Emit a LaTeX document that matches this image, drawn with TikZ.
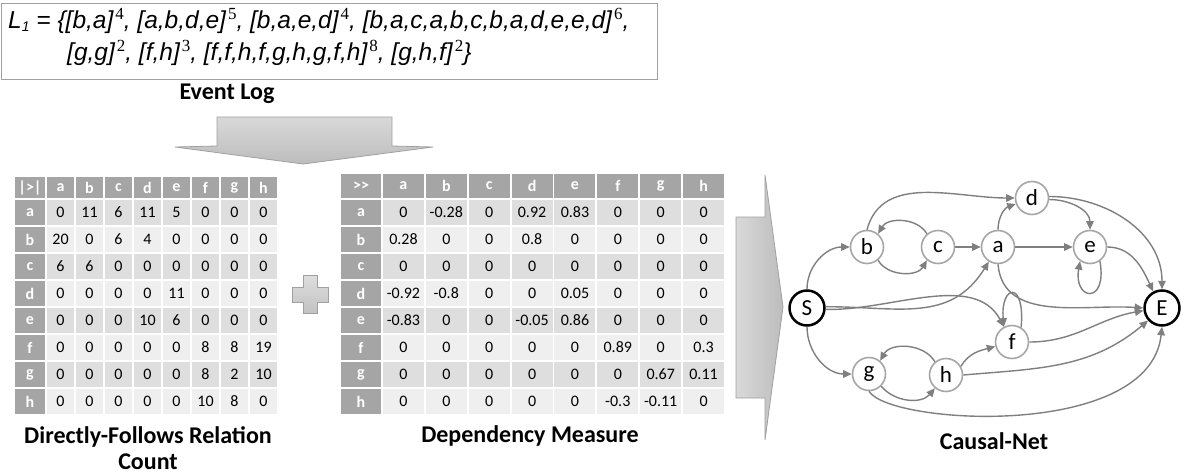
\documentclass[tikz,border=0pt]{standalone}
\usepackage{fontspec}
\setmainfont{Carlito}
\newfontfamily\arialfont{Liberation Sans}
\newfontfamily\supfont{Liberation Serif}
\usetikzlibrary{arrows.meta}

\definecolor{edgegray}{HTML}{7F7F7F}
\definecolor{nodegray}{HTML}{A6A6A6}
\definecolor{headgray}{HTML}{A5A5A5}
\definecolor{banddark}{HTML}{DEDEDE}
\definecolor{bandlight}{HTML}{EFEFEF}
\definecolor{boxgray}{HTML}{A0A0A0}

% exponent of a trace multiplicity
\newcommand\ex[1]{\kern2pt\raisebox{9pt}{\supfont\upshape\fontsize{17}{17}\selectfont #1}}
% small subscript after the log name
\newcommand\lsub[1]{\raisebox{-0.3ex}{\fontsize{14}{14}\selectfont #1}}

\begin{document}
\begin{tikzpicture}[x=1pt,y=1pt,
  logtext/.style={font=\arialfont\itshape\fontsize{24.5}{24.5}\selectfont, inner sep=0, anchor=base west},
  caption/.style={font=\bfseries\fontsize{24}{26}\selectfont, align=center, inner sep=0},
  hcell/.style={fill=headgray, text=white, font=\bfseries\fontsize{16}{16}\selectfont, inner sep=0},
  dcell/.style={font=\fontsize{16}{16}\selectfont, inner sep=0},
  act/.style={circle, draw=nodegray, line width=1.6, fill=white, minimum size=33, inner sep=0, font=\fontsize{23}{23}\selectfont},
  term/.style={circle, draw=black, line width=2.5, fill=white, minimum size=35, inner sep=0, font=\fontsize{23}{23}\selectfont},
  flow/.style={draw=edgegray, line width=1.4, -{Triangle[length=8.5,width=7.5]}},
  bigarrow/.style={draw=boxgray, line width=0.8}
]
\useasboundingbox (0,0) rectangle (1184,-474);

% ---------- event log ----------
\node[draw=boxgray, line width=1, minimum width=656, minimum height=76, anchor=north west, inner sep=0] (logbox) at (1,-3) {};
\node[logtext] (log1) at (8,-28) {L\lsub{1} = \{[b,a]\ex{4}, [a,b,d,e]\ex{5}, [b,a,e,d]\ex{4}, [b,a,c,a,b,c,b,a,d,e,e,d]\ex{6},};
\node[logtext] (log2) at (67,-60) {[g,g]\ex{2}, [f,h]\ex{3}, [f,f,h,f,g,h,g,f,h]\ex{8}, [g,h,f]\ex{2}\}};
\node[caption] (loglabel) at (227,-94) {Event Log};

% ---------- wide arrow from the log down to the tables ----------
\path[bigarrow, top color=black!15, bottom color=black!26]
  (217,-117) -- (392,-117) -- (392,-146) -- (433,-147) -- (303,-164)
  -- (175,-147) -- (217,-146) -- cycle;

% ---------- directly-follows table ----------
\node[hcell, minimum width=30, minimum height=21] (L-hd) at (30,-187.5) {|>|};
\foreach \c [count=\j] in {a,b,c,d,e,f,g,h}
  \node[hcell, minimum width=27, minimum height=21] (L-h\c) at ({46+29*(\j-0.5)},-187.5) {\c};
\foreach \lab/\row [count=\i] in {
    a/{0,11,6,11,5,0,0,0},
    b/{20,0,6,4,0,0,0,0},
    c/{6,6,0,0,0,0,0,0},
    d/{0,0,0,0,11,0,0,0},
    e/{0,0,0,10,6,0,0,0},
    f/{0,0,0,0,0,8,8,19},
    g/{0,0,0,0,0,8,2,10},
    h/{0,0,0,0,0,10,8,0}} {
  \pgfmathsetmacro\yc{-(199+27*(\i-0.5))}
  \pgfmathsetmacro\shade{isodd(\i) ? 1 : 0}
  \node[hcell, minimum width=30, minimum height=25] (L-\lab) at (30,\yc) {\lab};
  \foreach \v [count=\j] in \row {
    \ifnum\shade=1 \def\bandcol{banddark}\else\def\bandcol{bandlight}\fi
    \node[dcell, fill=\bandcol, minimum width=27, minimum height=25] (L-\lab\j) at ({46+29*(\j-0.5)},\yc) {\v};
  }
}
\node[caption] (dflabel) at (148,-448) {Directly-Follows Relation\\Count};

% ---------- plus sign ----------
\path[bigarrow, top color=black!13, bottom color=black!24]
  (303,-275) -- (317,-275) -- (317,-287) -- (328,-287) -- (328,-302) -- (317,-302)
  -- (317,-313) -- (303,-313) -- (303,-302) -- (292,-302) -- (292,-287) -- (303,-287) -- cycle;

% ---------- dependency table ----------
\node[hcell, minimum width=40, minimum height=24] (D-hd) at (361,-186) {>{}>};
\foreach \c [count=\j] in {a,b,c,d,e,f,g,h}
  \node[hcell, minimum width=40.9, minimum height=24] (D-h\c) at ({382+42.875*(\j-0.5)},-186) {\c};
\foreach \lab/\row [count=\i] in {
    a/{0,-0.28,0,0.92,0.83,0,0,0},
    b/{0.28,0,0,0.8,0,0,0,0},
    c/{0,0,0,0,0,0,0,0},
    d/{-0.92,-0.8,0,0,0.05,0,0,0},
    e/{-0.83,0,0,-0.05,0.86,0,0,0},
    f/{0,0,0,0,0,0.89,0,0.3},
    g/{0,0,0,0,0,0,0.67,0.11},
    h/{0,0,0,0,0,-0.3,-0.11,0}} {
  \pgfmathsetmacro\yc{-(199+27*(\i-0.5))}
  \pgfmathsetmacro\shade{isodd(\i) ? 1 : 0}
  \node[hcell, minimum width=40, minimum height=25] (D-\lab) at (361,\yc) {\lab};
  \foreach \v [count=\j] in \row {
    \ifnum\shade=1 \def\bandcol{banddark}\else\def\bandcol{bandlight}\fi
    \node[dcell, fill=\bandcol, minimum width=40.9, minimum height=25] (D-\lab\j) at ({382+42.875*(\j-0.5)},\yc) {\v};
  }
}
\node[caption] (dmlabel) at (530,-436) {Dependency Measure};

% ---------- arrow towards the causal net ----------
\path[bigarrow, left color=black!15, right color=black!26]
  (736,-217) -- (765,-217) -- (765,-175) -- (783,-307) -- (765,-440)
  -- (765,-398) -- (736,-398) -- cycle;

% ---------- causal net ----------
\node[term] (S) at (807,-308) {S};
\node[term] (E) at (1162,-308) {E};
\node[act] (b) at (867,-247) {b};
\node[act] (c) at (938,-247) {c};
\node[act] (a) at (998,-247) {a};
\node[act] (d) at (1032,-198) {d};
\node[act] (e) at (1090,-247) {e};
\node[act] (f) at (1012,-342) {f};
\node[act] (g) at (869,-374) {g};
\node[act] (h) at (946,-375) {h};

\draw[flow] (S.north) to[out=90,in=180] (b.west);
\draw[flow] (S.4) to[out=0,in=238,looseness=1.1] (a.238);
\draw[flow] (S.-4) to[out=-2,in=118,looseness=0.9] (f.118);
\draw[flow] (S.south) to[out=270,in=180] (g.west);

\draw[flow] (b.-50) to[out=-60,in=-120] (c.-130);
\draw[flow] (c.130) to[out=120,in=60] (b.50);
\draw[flow] (b.north) to[out=75,in=180] (d.west);
\draw[flow] (c.east) -- (a.west);
\draw[flow] (a.north) to[out=90,in=200] (d.200);
\draw[flow] (a.east) -- (e.west);
\draw[flow] (a.south) to[out=-85,in=176] (E.west);
\draw[flow] (d.-5) to[out=0,in=90] (e.north);
\draw[flow] (d.5) to[out=0,in=90] (E.north);
\draw[flow] (e.east) to[out=0,in=115] (E.118);
\draw[flow] (e.-55) .. controls +(-80:45) and +(-100:40) .. (e.-125);

\draw[flow] (f.58) .. controls +(85:48) and +(95:42) .. (f.118);
\draw[flow] (f.east) to[out=0,in=190] (E.188);
\draw[flow] (h.30) to[out=60,in=195] (f.195);
\draw[flow] (h.east) to[out=5,in=220] (E.222);
\draw[flow] (g.-45) to[out=-50,in=-130] (h.-130);
\draw[flow] (h.130) to[out=120,in=60] (g.50);
\draw[flow] (g.south) .. controls (890,-425) and (1150,-440) .. (E.south);

\node[caption] (cnlabel) at (994,-441) {Causal-Net};
\end{tikzpicture}
\end{document}
